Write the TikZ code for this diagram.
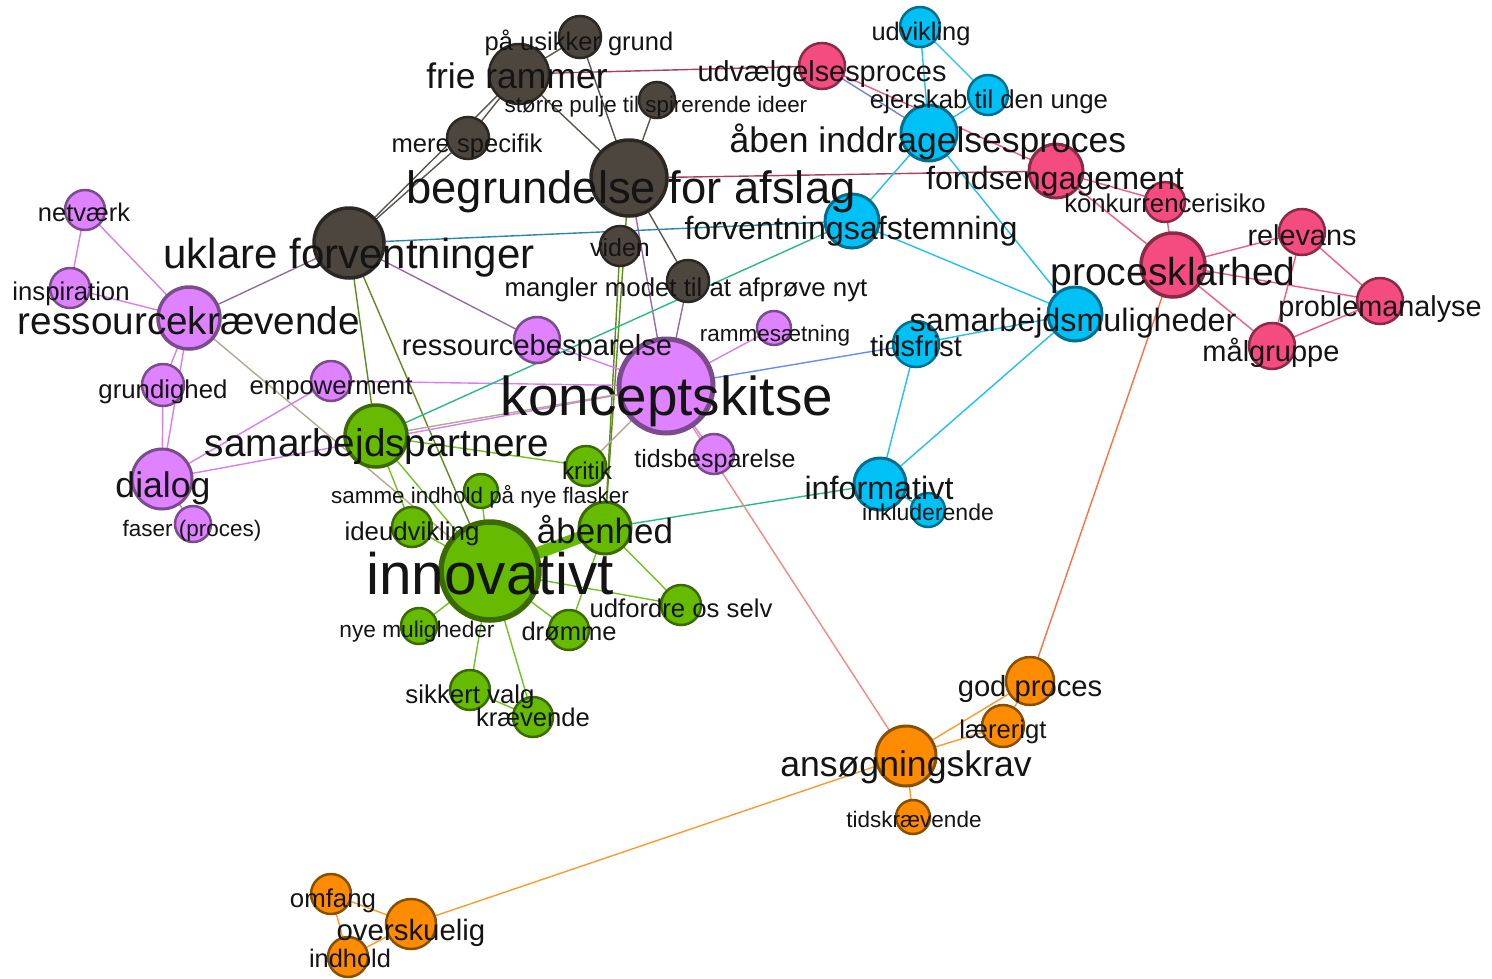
\documentclass[tikz,border=0pt]{standalone}
\usepackage{fontspec}
\setmainfont{Liberation Sans}
\pgfdeclarelayer{bgw}
\pgfdeclarelayer{edges}
\pgfsetlayers{bgw,edges,main}
\definecolor{brF}{HTML}{4D463E}\definecolor{brL}{HTML}{2B2824}
\definecolor{puF}{HTML}{DE82FF}\definecolor{puL}{HTML}{7B4C8C}
\definecolor{grF}{HTML}{66BB00}\definecolor{grL}{HTML}{3A6A00}
\definecolor{blF}{HTML}{00C1F5}\definecolor{blL}{HTML}{006F8E}
\definecolor{rdF}{HTML}{F44C80}\definecolor{rdL}{HTML}{8A2A48}
\definecolor{orF}{HTML}{FF8C00}\definecolor{orL}{HTML}{875000}
\definecolor{eBr}{HTML}{5A554E}\definecolor{ePu}{HTML}{D77EF2}
\definecolor{eBl}{HTML}{22C0F2}\definecolor{eRd}{HTML}{F25A88}
\definecolor{eGr}{HTML}{72C322}\definecolor{eOr}{HTML}{FF9A30}
\definecolor{eBrGr}{HTML}{5E8A1E}\definecolor{eBrPu}{HTML}{9A6AA2}
\definecolor{eBrBl}{HTML}{2A88A8}\definecolor{eBrRd}{HTML}{A8405E}
\definecolor{eGrBl}{HTML}{2CB884}\definecolor{eGrPu}{HTML}{B4A890}
\definecolor{ePuBl}{HTML}{6A8CF2}\definecolor{eSal}{HTML}{F28A86}
\definecolor{eRdOr}{HTML}{FF7040}\definecolor{eRdBl}{HTML}{7A80D0}
\begin{document}
\begin{tikzpicture}[x=1pt,y=-1pt,
  nd/.style={circle,inner sep=0pt,outer sep=0pt,line width=2.5pt},
  rad/.style={minimum size=2*#1},
  brn/.style={nd,fill=brF,draw=brL,rad=#1},
  pun/.style={nd,fill=puF,draw=puL,rad=#1},
  grn/.style={nd,fill=grF,draw=grL,rad=#1},
  bln/.style={nd,fill=blF,draw=blL,rad=#1},
  rdn/.style={nd,fill=rdF,draw=rdL,rad=#1},
  orn/.style={nd,fill=orF,draw=orL,rad=#1},
  lbl/.style={anchor=base,inner sep=0pt,text=black!92,font=\fontsize{#1pt}{#1pt}\selectfont},
  ed/.style={line width=1.4pt,draw=#1}]
\begin{pgfonlayer}{bgw}
\fill[white] (0,0) rectangle (1492,978);
\end{pgfonlayer}
\useasboundingbox (0,0) rectangle (1492,978);
% ---------- nodes ----------
% brown
\node[brn=21] (pau) at (580,37) {};
\node[brn=30] (frie) at (519,74) {};
\node[brn=18] (stoerre) at (657,100) {};
\node[brn=21] (mere) at (468,138) {};
\node[brn=38,line width=3.5pt] (begr) at (629,178) {};
\node[brn=35,line width=3.5pt] (ukl) at (349,243) {};
\node[brn=20] (viden) at (620,246) {};
\node[brn=21] (mangl) at (688,281) {};
% purple
\node[pun=20] (netv) at (85,210) {};
\node[pun=20] (insp) at (70,288) {};
\node[pun=31,line width=3.5pt] (resk) at (189,318) {};
\node[pun=21] (grund) at (163,385) {};
\node[pun=20] (empow) at (331,381) {};
\node[pun=30,line width=3pt] (dialog) at (162,479) {};
\node[pun=18] (faser) at (193,524) {};
\node[pun=23] (resb) at (537,340) {};
\node[pun=17] (ramme) at (774,328) {};
\node[pun=47,line width=5pt] (konc) at (666,386) {};
\node[pun=20] (tidsb) at (714,454) {};
% green
\node[grn=31,line width=3.5pt] (samp) at (376,436) {};
\node[grn=20] (kritik) at (586,466) {};
\node[grn=17] (samme) at (481,491) {};
\node[grn=20] (ideu) at (412,527) {};
\node[grn=26,line width=3pt] (aabenh) at (605,528) {};
\node[grn=49,line width=5.5pt] (innov) at (490,571) {};
\node[grn=20] (udf) at (681,605) {};
\node[grn=18] (nyem) at (419,626) {};
\node[grn=20] (droem) at (569,630) {};
\node[grn=20] (sikk) at (470,690) {};
\node[grn=20] (kraev) at (533,717) {};
% blue
\node[bln=20] (udv) at (920,27) {};
\node[bln=20] (ejer) at (988,95) {};
\node[bln=28,line width=3pt] (aaben) at (929,133) {};
\node[bln=27,line width=3pt] (forv) at (852,221) {};
\node[bln=27,line width=3pt] (samm) at (1075,314) {};
\node[bln=23] (tidsf) at (916,344) {};
\node[bln=26,line width=3pt] (inform) at (880,484) {};
\node[bln=17] (inkl) at (928,510) {};
% red
\node[rdn=23] (udvael) at (822,66) {};
\node[rdn=27,line width=3pt] (fonds) at (1056,171) {};
\node[rdn=20] (konk) at (1165,202) {};
\node[rdn=23] (relev) at (1302,232) {};
\node[rdn=32,line width=3.5pt] (prock) at (1173,265) {};
\node[rdn=23] (probl) at (1380,301) {};
\node[rdn=23] (maalg) at (1272,346) {};
% orange
\node[orn=24] (godp) at (1030,681) {};
\node[orn=21] (laer) at (1003,726) {};
\node[orn=30,line width=3pt] (ansoeg) at (906,756) {};
\node[orn=17] (tidskr) at (913,817) {};
\node[orn=20] (omf) at (331,894) {};
\node[orn=25] (oversk) at (411,924) {};
\node[orn=20] (indh) at (348,957) {};
% ---------- edges ----------
\begin{pgfonlayer}{edges}
\draw[ed=eBr] (ukl) -- (frie);
\draw[ed=eBr] (ukl) -- (mere);
\draw[ed=eBr] (mere) -- (frie);
\draw[ed=eBr] (frie) -- (pau);
\draw[ed=eBr] (frie) -- (begr);
\draw[ed=eBr] (pau) -- (begr);
\draw[ed=eBr] (stoerre) -- (begr);
\draw[ed=eBr] (begr) -- (mangl);
\draw[ed=eBrRd] (frie) -- (udvael);
\draw[ed=eBrRd] (begr) -- (fonds);
\draw[ed=eBrGr] (begr) -- (aabenh);
\draw[ed=eBrGr] (viden) -- (aabenh);
\draw[ed=eBrGr] (ukl) -- (samp);
\draw[ed=eBrGr] (ukl) -- (innov);
\draw[ed=eBrPu] (ukl) -- (resb);
\draw[ed=eBrPu] (ukl) -- (resk);
\draw[ed=eBrPu] (begr) -- (konc);
\draw[ed=eBrPu] (mangl) -- (konc);
\draw[ed=eBrBl] (ukl) -- (forv);
% purple
\draw[ed=ePu] (netv) -- (insp);
\draw[ed=ePu] (netv) -- (resk);
\draw[ed=ePu] (insp) -- (resk);
\draw[ed=ePu] (resk) -- (grund);
\draw[ed=ePu] (resk) -- (dialog);
\draw[ed=ePu] (grund) -- (dialog);
\draw[ed=ePu] (dialog) -- (faser);
\draw[ed=ePu] (dialog) -- (empow);
\draw[ed=ePu] (dialog) -- (konc);
\draw[ed=ePu] (empow) -- (konc);
\draw[ed=ePu] (resb) -- (konc);
\draw[ed=ePu] (ramme) -- (konc);
\draw[ed=ePu] (konc) -- (tidsb);
% mixed
\draw[ed=eGrPu] (samp) -- (konc);
\draw[ed=eGrPu] (kritik) -- (konc);
\draw[ed=eGrPu] (resk) -- (innov);
\draw[ed=eGrBl] (samp) -- (forv);
\draw[ed=eGrBl] (aabenh) -- (inform);
\draw[ed=ePuBl] (konc) -- (tidsf);
\draw[ed=eSal] (konc) -- (ansoeg);
\draw[ed=eRdBl] (udvael) -- (aaben);
\draw[ed=eRdOr] (prock) -- (godp);
% green
\draw[ed=eGr] (samp) -- (kritik);
\draw[ed=eGr] (samp) -- (innov);
\draw[ed=eGr] (samp) -- (ideu);
\draw[line width=12pt,draw=grF] (innov) -- (aabenh);
\draw[ed=eGr] (innov) -- (samme);
\draw[ed=eGr] (innov) -- (ideu);
\draw[ed=eGr] (innov) -- (udf);
\draw[ed=eGr] (aabenh) -- (udf);
\draw[ed=eGr] (innov) -- (droem);
\draw[ed=eGr] (aabenh) -- (droem);
\draw[ed=eGr] (innov) -- (nyem);
\draw[ed=eGr] (innov) -- (sikk);
\draw[ed=eGr] (innov) -- (kraev);
\draw[ed=eGr] (sikk) -- (kraev);
% blue
\draw[ed=eBl] (udv) -- (ejer);
\draw[ed=eBl] (udv) -- (aaben);
\draw[ed=eBl] (ejer) -- (aaben);
\draw[ed=eBl] (aaben) -- (forv);
\draw[ed=eBl] (aaben) -- (samm);
\draw[ed=eBl] (forv) -- (samm);
\draw[ed=eBl] (samm) -- (tidsf);
\draw[ed=eBl] (samm) -- (inform);
\draw[ed=eBl] (tidsf) -- (inform);
\draw[ed=eBl] (inform) -- (inkl);
% red
\draw[ed=eRd] (udvael) -- (fonds);
\draw[ed=eRd] (fonds) -- (konk);
\draw[ed=eRd] (fonds) -- (prock);
\draw[ed=eRd] (konk) -- (prock);
\draw[ed=eRd] (prock) -- (relev);
\draw[ed=eRd] (prock) -- (probl);
\draw[ed=eRd] (prock) -- (maalg);
\draw[ed=eRd] (relev) -- (probl);
\draw[ed=eRd] (relev) -- (maalg);
\draw[ed=eRd] (maalg) -- (probl);
% orange
\draw[ed=eOr] (godp) -- (laer);
\draw[ed=eOr] (godp) -- (ansoeg);
\draw[ed=eOr] (laer) -- (ansoeg);
\draw[ed=eOr] (ansoeg) -- (tidskr);
\draw[ed=eOr] (ansoeg) -- (oversk);
\draw[ed=eOr] (omf) -- (oversk);
\draw[ed=eOr] (omf) -- (indh);
\draw[ed=eOr] (indh) -- (oversk);
\end{pgfonlayer}
% ---------- labels ----------
\node[lbl=25.5] (l-pau) at (579,50) {på usikker grund};
\node[lbl=35.5] (l-frie) at (517,88) {frie rammer};
\node[lbl=22.4] (l-stoerre) at (656,112) {større pulje til spirerende ideer};
\node[lbl=25.6] (l-mere) at (467,152) {mere specifik};
\node[lbl=45.4] (l-begr) at (631,203) {begrundelse for afslag};
\node[lbl=42] (l-ukl) at (349,268) {uklare forventninger};
\node[lbl=25] (l-viden) at (620,256) {viden};
\node[lbl=25.8] (l-mangl) at (686,296) {mangler modet til at afprøve nyt};
\node[lbl=25.5] (l-netv) at (84,221) {netværk};
\node[lbl=25.7] (l-insp) at (71,300) {inspiration};
\node[lbl=38.7] (l-resk) at (189,334) {ressourcekrævende};
\node[lbl=25.8] (l-grund) at (163,398) {grundighed};
\node[lbl=25.7] (l-empow) at (331,394) {empowerment};
\node[lbl=35.6] (l-dialog) at (163,497) {dialog};
\node[lbl=22.5] (l-faser) at (192,536) {faser (proces)};
\node[lbl=29.1] (l-resb) at (537,355) {ressourcebesparelse};
\node[lbl=22.5] (l-ramme) at (775,341) {rammesætning};
\node[lbl=54.8] (l-konc) at (667,415) {konceptskitse};
\node[lbl=25] (l-tidsb) at (715,467) {tidsbesparelse};
\node[lbl=38.7] (l-samp) at (377,456) {samarbejdspartnere};
\node[lbl=24.3] (l-kritik) at (587,479) {kritik};
\node[lbl=22.4] (l-samme) at (480,503) {samme indhold på nye flasker};
\node[lbl=25.8] (l-ideu) at (412,540) {ideudvikling};
\node[lbl=35] (l-aabenh) at (605,543) {åbenhed};
\node[lbl=58.5] (l-innov) at (490,594) {innovativt};
\node[lbl=25.7] (l-udf) at (681,617) {udfordre os selv};
\node[lbl=22.7] (l-nyem) at (417,637) {nye muligheder};
\node[lbl=25.5] (l-droem) at (569,640) {drømme};
\node[lbl=25.8] (l-sikk) at (470,703) {sikkert valg};
\node[lbl=25.6] (l-kraev) at (533,726) {krævende};
\node[lbl=25.4] (l-udv) at (921,40) {udvikling};
\node[lbl=25.8] (l-ejer) at (989,108) {ejerskab til den unge};
\node[lbl=35.5] (l-aaben) at (928,152) {åben inddragelsesproces};
\node[lbl=32.2] (l-forv) at (851,239) {forventningsafstemning};
\node[lbl=32.3] (l-samm) at (1073,331) {samarbejdsmuligheder};
\node[lbl=29] (l-tidsf) at (916,356) {tidsfrist};
\node[lbl=32.3] (l-inform) at (879,499) {informativt};
\node[lbl=23] (l-inkl) at (928,520) {inkluderende};
\node[lbl=28.9] (l-udvael) at (822,81) {udvælgelsesproces};
\node[lbl=32.2] (l-fonds) at (1055,189) {fondsengagement};
\node[lbl=25.7] (l-konk) at (1165,212) {konkurrencerisiko};
\node[lbl=28.8] (l-relev) at (1302,245) {relevans};
\node[lbl=39] (l-prock) at (1173,285) {procesklarhed};
\node[lbl=28.8] (l-probl) at (1380,316) {problemanalyse};
\node[lbl=29] (l-maalg) at (1271,361) {målgruppe};
\node[lbl=29.2] (l-godp) at (1030,696) {god proces};
\node[lbl=25.7] (l-laer) at (1003,738) {lærerigt};
\node[lbl=35.6] (l-ansoeg) at (906,776) {ansøgningskrav};
\node[lbl=22.5] (l-tidskr) at (914,827) {tidskrævende};
\node[lbl=25.8] (l-omf) at (333,907) {omfang};
\node[lbl=29.4] (l-oversk) at (411,940) {overskuelig};
\node[lbl=25.4] (l-indh) at (350,967) {indhold};
\end{tikzpicture}
\end{document}
